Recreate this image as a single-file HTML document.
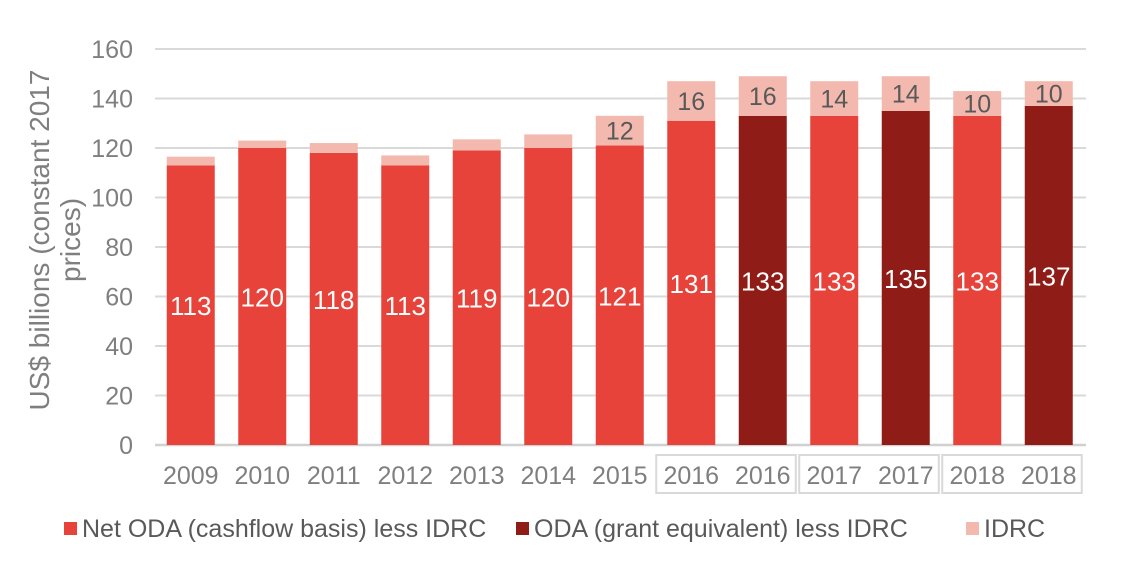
<!DOCTYPE html>
<html><head><meta charset="utf-8"><style>
body{margin:0;background:#fff;}
svg text{font-family:"Liberation Sans",sans-serif;}
</style></head><body>
<svg id="chart" width="1124" height="572" xmlns="http://www.w3.org/2000/svg">
<g id="grid"></g><g id="bars"></g><g id="labels"></g>
<text transform="translate(50,240) rotate(-90)" text-anchor="middle" font-size="28" fill="#7f7f7f"><tspan x="0" dy="-1">US$ billions (constant 2017</tspan><tspan x="0" dy="31">prices)</tspan></text>
<g font-size="25" fill="#595959">
<rect x="64" y="522" width="13" height="13" fill="#e8433b"/>
<text x="82" y="537">Net ODA (cashflow basis) less IDRC</text>
<rect x="516" y="522" width="13" height="13" fill="#8f1c16"/>
<text x="534" y="537">ODA (grant equivalent) less IDRC</text>
<rect x="966" y="522" width="13" height="13" fill="#f4b9ae"/>
<text x="984" y="537">IDRC</text>
</g>
</svg>
<script>
const categories=["2009","2010","2011","2012","2013","2014","2015","2016","2016","2017","2017","2018","2018"];
const mainValues=[113,120,118,113,119,120,121,131,133,133,135,133,137];
const idrcValues=[3.5,3,4,4,4.5,5.5,12,16,16,14,14,10,10];
const isGrantEq=[0,0,0,0,0,0,0,0,1,0,1,0,1];
const idrcLabelShown=[0,0,0,0,0,0,1,1,1,1,1,1,1];
const yTicks=[0,20,40,60,80,100,120,140,160];
const NS="http://www.w3.org/2000/svg";
const y0=445,yScale=396/160,x0=155,step=71.5,bw=48;
const y=v=>y0-v*yScale;
const xc=i=>x0+step*(i+0.5);
function mk(tag,attrs,parent,txt){const e=document.createElementNS(NS,tag);for(const k in attrs)e.setAttribute(k,attrs[k]);if(txt!==undefined)e.textContent=txt;parent.appendChild(e);return e;}
const grid=document.getElementById('grid'),bars=document.getElementById('bars'),labels=document.getElementById('labels');
yTicks.forEach(t=>{
  const l=mk('line',{x1:x0,x2:1086,y1:y(t),y2:y(t),stroke:t===0?'#d0d0d0':'#d9d9d9','stroke-width':t===0?2.5:2},grid);
  
  
  const tx=mk('text',{x:133,y:y(t)+9,'text-anchor':'end','font-size':25,fill:'#7f7f7f'},grid,String(t));
  
  
});
categories.forEach((c,i)=>{
  const cx=xc(i),m=mainValues[i],d=idrcValues[i];
  const r1=mk('rect',{x:cx-bw/2,y:y(m),width:bw,height:y0-y(m),fill:isGrantEq[i]?'#8f1c16':'#e8433b'},bars);
  
  
  const r2=mk('rect',{x:cx-bw/2,y:y(m+d),width:bw,height:y(m)-y(m+d),fill:'#f4b9ae'},bars);
  
  
  const t1=mk('text',{x:cx,y:y(m/2)+10,'text-anchor':'middle','font-size':26,fill:'#fff'},labels,String(m));
  
  
  if(idrcLabelShown[i]){
    const t2=mk('text',{x:cx,y:y(m+d/2)+9,'text-anchor':'middle','font-size':25,fill:'#595959'},labels,String(d));
    
    
  }
  const t3=mk('text',{x:cx,y:484,'text-anchor':'middle','font-size':25,fill:'#7f7f7f'},labels,c);
  
  
});
[[7,8],[9,10],[11,12]].forEach(([a,b],k)=>{
  const r=mk('rect',{x:xc(a)-35,y:455,width:(xc(b)-xc(a))+68,height:38,fill:'none',stroke:'#d9d9d9','stroke-width':2},labels);
  
  
});
</script>
</body></html>
